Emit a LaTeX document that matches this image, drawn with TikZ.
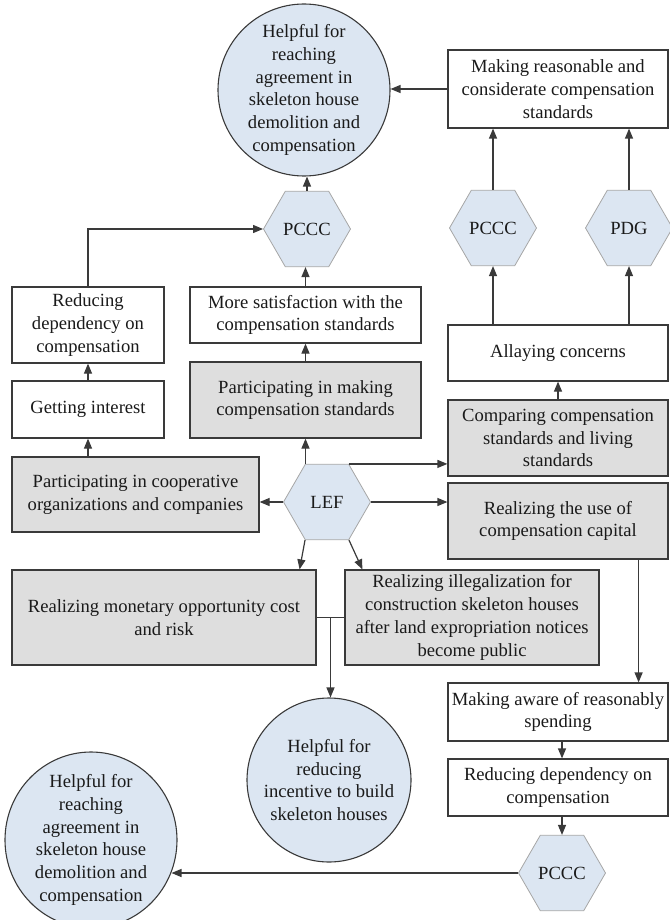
\documentclass[tikz,border=0pt]{standalone}
\usepackage{fontspec}
\setmainfont{Liberation Serif}
\usetikzlibrary{shapes.geometric,arrows.meta,calc}
\definecolor{hexfill}{HTML}{DCE6F2}
\definecolor{hexline}{HTML}{A6A6A6}
\definecolor{boxgray}{HTML}{DEDEDE}
\definecolor{inkline}{HTML}{3A3A3A}
\definecolor{inktext}{HTML}{1A1A1A}

\begin{document}
\begin{tikzpicture}[x=1pt,y=-1pt,
  every node/.style={font=\fontsize{18.6}{22.8}\selectfont, text=inktext},
  plainbox/.style={draw=inkline, line width=1.2pt, fill=white, align=center, inner sep=2pt},
  graybox/.style={plainbox, fill=boxgray},
  hexnode/.style={regular polygon, regular polygon sides=6, minimum size=87pt, inner sep=0pt,
                  draw=hexline, line width=0.8pt, fill=hexfill},
  goal/.style={ellipse, draw=inkline, line width=1.1pt, fill=hexfill, inner sep=0pt},
  goaltext/.style={align=center, inner sep=0pt},
  link/.style={draw=inkline, line width=1.2pt},
  arrowlink/.style={link, -{Triangle[length=10pt,width=8pt]}}
]
\useasboundingbox (0,0) rectangle (669,920);

% goals
\node[goal, minimum width=172pt, minimum height=172pt] (ell1) at (304,90) {};
\node[goaltext] (ell1t) at (ell1.center) {Helpful for\\reaching\\agreement in\\skeleton house\\demolition and\\compensation};
\node[goal, minimum width=164pt, minimum height=164pt] (ell2) at (329,780) {};
\node[goaltext] (ell2t) at (ell2.center) {Helpful for\\reducing\\incentive to build\\skeleton houses};
\node[goal, minimum width=172pt, minimum height=176pt] (ell3) at (91,840) {};
\node[goaltext] (ell3t) at (ell3.center) {Helpful for\\reaching\\agreement in\\skeleton house\\demolition and\\compensation};

% boxes
\node[plainbox, minimum width=220pt, minimum height=78pt] (topbox) at (558,89)
  {Making reasonable and\\considerate compensation\\standards};
\node[plainbox, minimum width=152pt, minimum height=76pt] (redcomp) at (88,325)
  {Reducing\\dependency on\\compensation};
\node[plainbox, minimum width=231pt, minimum height=56pt] (moresat) at (305.5,315)
  {More satisfaction with the\\compensation standards};
\node[plainbox, minimum width=152pt, minimum height=57pt] (interest) at (88,409.5)
  {Getting interest};
\node[graybox, minimum width=231pt, minimum height=76pt] (partmake) at (305.5,400)
  {Participating in making\\compensation standards};
\node[plainbox, minimum width=220pt, minimum height=56pt] (allay) at (558,353)
  {Allaying concerns};
\node[graybox, minimum width=220pt, minimum height=76pt] (compare) at (558,438)
  {Comparing compensation\\standards and living\\standards};
\node[graybox, minimum width=247pt, minimum height=75pt] (coop) at (135.5,494.5)
  {Participating in cooperative\\organizations and companies};
\node[graybox, minimum width=220pt, minimum height=76pt] (capital) at (558,521)
  {Realizing the use of\\compensation capital};
\node[graybox, minimum width=304pt, minimum height=95pt] (monetary) at (164,617.5)
  {Realizing monetary opportunity cost\\and risk};
\node[graybox, minimum width=254pt, minimum height=95pt] (illegal) at (472,617.5)
  {Realizing illegalization for\\construction skeleton houses\\after land expropriation notices\\become public};
\node[plainbox, minimum width=220pt, minimum height=58pt] (aware) at (558,712)
  {Making aware of reasonably\\spending};
\node[plainbox, minimum width=220pt, minimum height=57pt] (redcomp2) at (558,787.5)
  {Reducing dependency on\\compensation};

% hexagons
\node[hexnode] (pccc1) at (307,229) {PCCC};
\node[hexnode] (pccc2) at (493,228) {PCCC};
\node[hexnode] (pdg) at (629,228) {PDG};
\node[hexnode] (lef) at (327,502) {LEF};
\node[hexnode] (pccc3) at (562,873) {PCCC};

% connectors
\draw[arrowlink] (topbox.west) -- (topbox.west -| ell1.east);
\draw[arrowlink] (pccc1.north) -- (pccc1.north |- ell1.south);
\draw[arrowlink] (redcomp.north) |- (pccc1.west);
\draw[arrowlink] (moresat.north) -- (moresat.north |- pccc1.south);
\draw[arrowlink] (pccc2.north) -- (pccc2.north |- topbox.south);
\draw[arrowlink] (pdg.north) -- (pdg.north |- topbox.south);
\draw[arrowlink] (allay.north -| pccc2.south) -- (pccc2.south);
\draw[arrowlink] (allay.north -| pdg.south) -- (pdg.south);
\draw[arrowlink] (interest.north) -- (redcomp.south);
\draw[arrowlink] (partmake.north) -- (moresat.south);
\draw[arrowlink] (compare.north) -- (allay.south);
\draw[arrowlink] (coop.north -| interest.south) -- (interest.south);
\draw[arrowlink] (lef.west) -- (lef.west -| coop.east);
\draw[arrowlink] (lef.north -| partmake.south) -- (partmake.south);
\draw[arrowlink] (lef.60) -- (lef.60 -| compare.west);
\draw[arrowlink] (lef.east) -- (lef.east -| capital.west);
\draw[arrowlink] (lef.240) -- ($(monetary.north east)+(-17,0)$);
\draw[arrowlink] (lef.300) -- ($(illegal.north west)+(18,0)$);
\coordinate (split) at ($(monetary.east)!0.5!(illegal.west)$);
\draw[link] (monetary.east) -- (illegal.west);
\draw[arrowlink] (split) -- (split |- ell2.north);
\draw[arrowlink] ($(capital.south east)+(-30,0)$) -- ($(aware.north east)+(-30,0)$);
\draw[arrowlink] (aware.south -| pccc3.north) -- (redcomp2.north -| pccc3.north);
\draw[arrowlink] (redcomp2.south -| pccc3.north) -- (pccc3.north);
\draw[arrowlink] (pccc3.west) -- (pccc3.west -| ell3.-22);
\end{tikzpicture}
\end{document}
